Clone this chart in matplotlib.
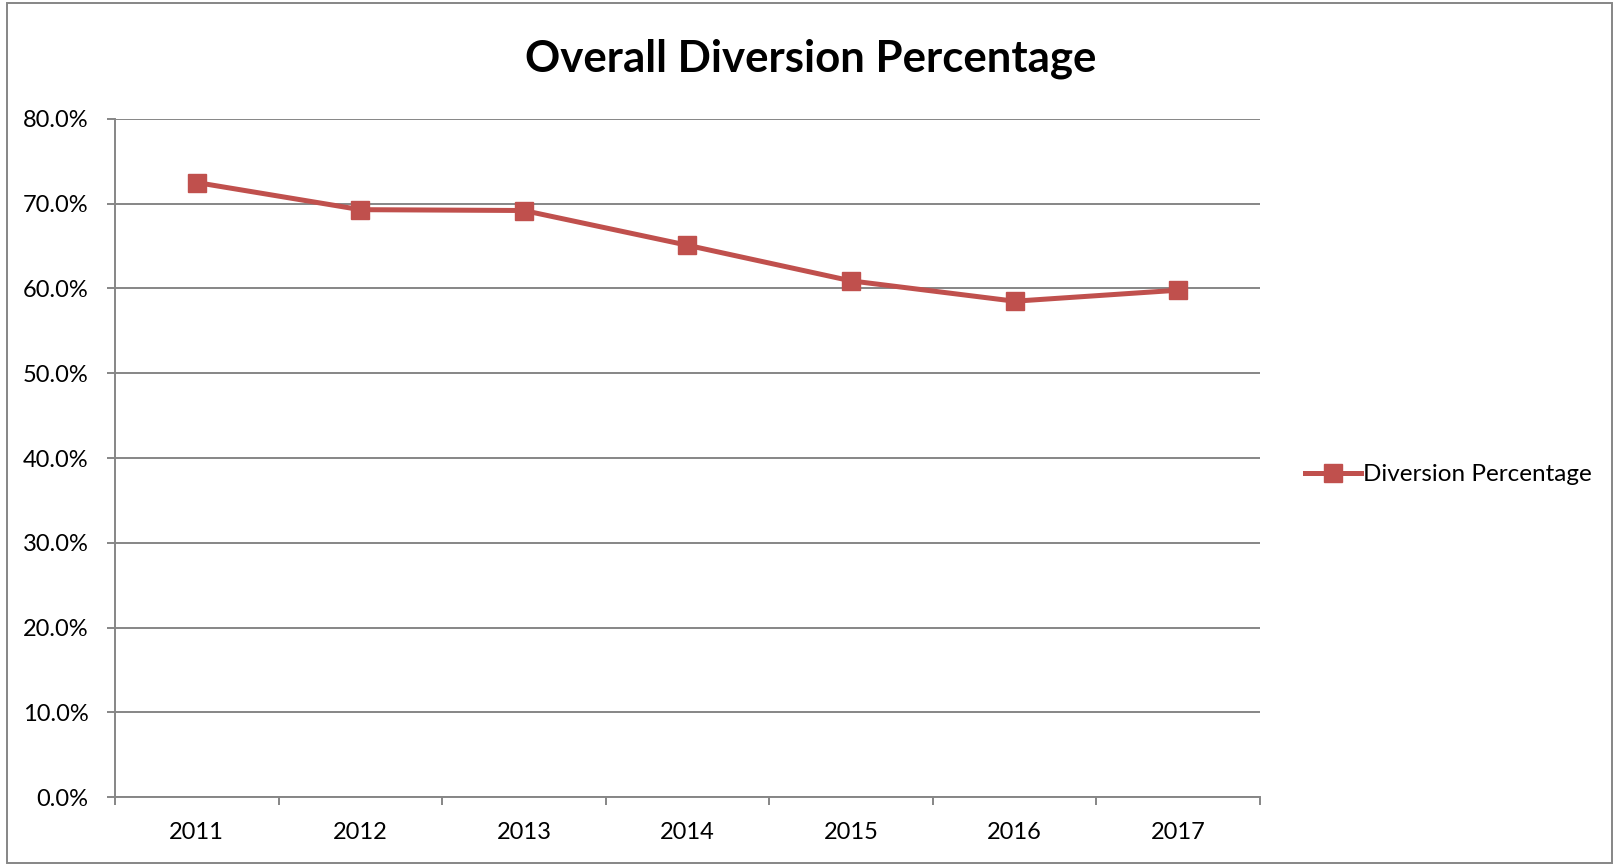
#!/usr/bin/env python3
"""Overall diversion percentage by year, line chart."""

import matplotlib
matplotlib.use("Agg")
import matplotlib.pyplot as plt
from matplotlib.patches import Rectangle
from matplotlib.ticker import FuncFormatter, MultipleLocator

years = ["2011", "2012", "2013", "2014", "2015", "2016", "2017"]
diversion = [72.5, 69.3, 69.2, 65.1, 60.9, 58.5, 59.8]

RED = "#C0504D"
GRID = "#868686"

plt.rcParams["font.family"] = ["Lato", "DejaVu Sans"]

fig = plt.figure(figsize=(16.17, 8.64), dpi=100)
ax = fig.add_axes([0.0711, 0.0775, 0.7081, 0.7848])

x = list(range(len(years)))
ax.plot(x, diversion, color=RED, linewidth=3.6, marker="s", markersize=12.5,
        markeredgecolor=RED, label="Diversion Percentage", zorder=3)

ax.set_xlim(-0.5, len(years) - 0.5)
ax.set_ylim(0, 80)
ax.yaxis.set_major_locator(MultipleLocator(10))
ax.yaxis.set_major_formatter(FuncFormatter(lambda v, _: f"{v:.1f}%"))
ax.set_xticks(x)
ax.set_xticklabels(years)
ax.set_xticks([i - 0.5 for i in range(len(years) + 1)], minor=True)

ax.grid(axis="y", color=GRID, linewidth=1.4)
ax.set_axisbelow(True)
for side in ("top", "right"):
    ax.spines[side].set_visible(False)
for side in ("left", "bottom"):
    ax.spines[side].set_color(GRID)
    ax.spines[side].set_linewidth(1.4)

ax.tick_params(axis="y", length=6, width=1.4, color=GRID, pad=13, labelsize=17)
ax.tick_params(axis="x", which="major", length=0, pad=18, labelsize=17)
ax.tick_params(axis="x", which="minor", length=6, width=1.4, color=GRID)

fig.text(0.5015, 0.932, "Overall Diversion Percentage", ha="center", va="center",
         fontsize=31.5, fontweight="bold")

ax.legend(loc="center left", bbox_to_anchor=(1.02, 0.475), frameon=False,
          fontsize=17.5, handlelength=2.3, handletextpad=0.1)

fig.patches.append(Rectangle((7 / 1617, 1 / 864), 1605 / 1617, 860 / 864,
                             transform=fig.transFigure, fill=False,
                             edgecolor=GRID, linewidth=1.4))

fig.savefig("out.png", dpi=100)
